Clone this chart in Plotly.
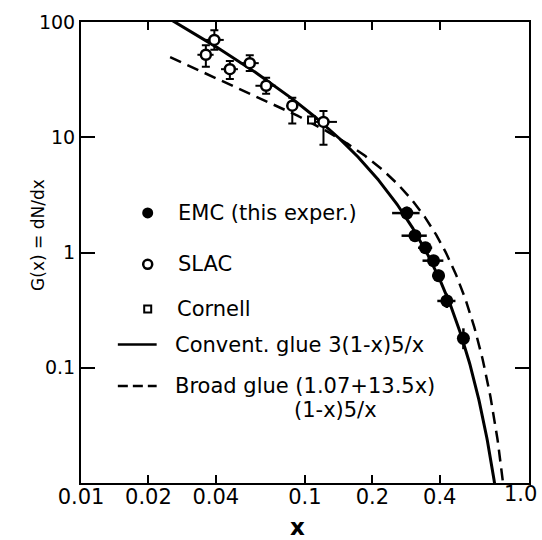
import numpy as np
import plotly.graph_objects as go

# ---- measured points ----
# EMC (this experiment): filled circles
emc_x = [0.285, 0.31, 0.345, 0.375, 0.395, 0.43, 0.51]
emc_y = [2.2, 1.4, 1.1, 0.85, 0.63, 0.38, 0.18]
emc_dx = [0.04, 0.04, 0.025, 0.04, 0.025, 0.04, 0.03]
emc_dy_up = [0.3, 0.17, 0.13, 0.1, 0.08, 0.06, 0.04]
emc_dy_dn = [0.25, 0.15, 0.11, 0.09, 0.07, 0.05, 0.035]

# SLAC: open circles
slac_x = [0.0394, 0.0361, 0.0462, 0.0567, 0.0671, 0.0878, 0.121]
slac_y = [70, 52, 39, 44, 28, 18.8, 13.6]
slac_dx = [0.004, 0.003, 0.004, 0.0055, 0.007, 0.005, 0.018]
slac_dy_up = [15, 11, 7, 7.5, 4.8, 3.2, 3.3]
slac_dy_dn = [12.5, 11, 7, 6.4, 4.1, 5.6, 5.0]

# Cornell: open square
cornell_x = [0.107]
cornell_y = [14.1]

# ---- glue distributions ----
conv_norm = 3.0                # 3(1-x)^5/x
broad_a, broad_b = 1.07, 13.5  # (1.07+13.5x)(1-x)^5/x
glue_power = 5

x_conv = np.logspace(np.log10(0.0255), np.log10(0.78), 500)
g_conv = conv_norm * (1 - x_conv) ** glue_power / x_conv
x_broad = np.logspace(np.log10(0.025), np.log10(0.82), 500)
g_broad = (broad_a + broad_b * x_broad) * (1 - x_broad) ** glue_power / x_broad

x_ticks = [0.01, 0.02, 0.04, 0.1, 0.2, 0.4, 1.0]
x_ticktext = ["0.01", "0.02", "0.04", "0.1", "0.2", "0.4", "1.0"]
y_ticks = [0.1, 1, 10, 100]
y_ticktext = ["0.1", "1", "10", "100"]

FONT = "DejaVu Sans"
W, H = 542, 540
L, R, T, B = 81, 11, 17, 57
PW, PH = W - L - R, H - T - B


def px(xp):
    return (xp - L) / PW


def py(yp):
    return (H - B - yp) / PH


fig = go.Figure()

fig.add_trace(go.Scatter(
    x=x_conv, y=g_conv, mode="lines",
    line=dict(color="black", width=3), hoverinfo="skip"))
fig.add_trace(go.Scatter(
    x=x_broad, y=g_broad, mode="lines",
    line=dict(color="black", width=2.5, dash="12px,7px"), hoverinfo="skip"))

fig.add_trace(go.Scatter(
    x=slac_x, y=slac_y, mode="markers",
    marker=dict(symbol="circle", size=10, color="white",
                line=dict(color="black", width=2.5)),
    error_x=dict(type="data", array=slac_dx, color="black", thickness=2, width=0),
    error_y=dict(type="data", symmetric=False, array=slac_dy_up,
                 arrayminus=slac_dy_dn, color="black", thickness=2, width=4)))

fig.add_trace(go.Scatter(
    x=cornell_x, y=cornell_y, mode="markers",
    marker=dict(symbol="square", size=7, color="white",
                line=dict(color="black", width=2))))

fig.add_trace(go.Scatter(
    x=emc_x, y=emc_y, mode="markers",
    marker=dict(symbol="circle", size=13, color="black"),
    error_x=dict(type="data", array=emc_dx, color="black", thickness=2.5, width=0),
    error_y=dict(type="data", symmetric=False, array=emc_dy_up,
                 arrayminus=emc_dy_dn, color="black", thickness=2.5, width=0)))

# ---- key (drawn on a hidden overlay axis in plot-fraction units) ----
key_x = px(148)
fig.add_trace(go.Scatter(
    x=[key_x], y=[py(210)], xaxis="x2", yaxis="y2", mode="markers",
    marker=dict(symbol="circle", size=11, color="black"), hoverinfo="skip"))
fig.add_trace(go.Scatter(
    x=[key_x], y=[py(262)], xaxis="x2", yaxis="y2", mode="markers",
    marker=dict(symbol="circle", size=9, color="white",
                line=dict(color="black", width=2.5)), hoverinfo="skip"))
fig.add_trace(go.Scatter(
    x=[key_x], y=[py(307)], xaxis="x2", yaxis="y2", mode="markers",
    marker=dict(symbol="square", size=7, color="white",
                line=dict(color="black", width=2)), hoverinfo="skip"))
fig.add_trace(go.Scatter(
    x=[px(118), px(157)], y=[py(343), py(343)], xaxis="x2", yaxis="y2",
    mode="lines", line=dict(color="black", width=2.5), hoverinfo="skip"))
fig.add_trace(go.Scatter(
    x=[px(118), px(157)], y=[py(385), py(385)], xaxis="x2", yaxis="y2",
    mode="lines", line=dict(color="black", width=2.5, dash="10px,5px"),
    hoverinfo="skip"))

key_font = dict(family=FONT, size=21, color="black")
key_text = [
    (176, 210, "EMC (this exper.)"),
    (176, 262, "SLAC"),
    (175, 307, "Cornell"),
    (173, 343, "Convent. glue 3(1-x)5/x"),
    (173, 385, "Broad glue (1.07+13.5x)"),
    (293, 409, "(1-x)5/x"),
]
for xp_, yp_, txt in key_text:
    fig.add_annotation(x=px(xp_), y=py(yp_), xref="paper", yref="paper",
                       text=txt, showarrow=False, xanchor="left",
                       yanchor="middle", font=key_font)

# axis titles
fig.add_annotation(x=px(37), y=py(232), xref="paper", yref="paper",
                   text="G(x) = dN/dx", textangle=-90, showarrow=False,
                   xanchor="center", yanchor="middle",
                   font=dict(family=FONT, size=17, color="black"))
fig.add_annotation(x=px(298), y=py(527), xref="paper", yref="paper",
                   text="<b>x</b>", showarrow=False,
                   xanchor="center", yanchor="middle",
                   font=dict(family=FONT, size=23, color="black"))

# the last x label sits at the page edge; keep it fully inside the page
tick_font_x = dict(family=FONT, size=21, color="black")
fig.add_annotation(x=px(541), y=py(494), xref="paper", yref="paper",
                   text=x_ticktext[-1], showarrow=False,
                   xanchor="right", yanchor="middle", font=tick_font_x)
x_ticktext_axis = x_ticktext[:-1] + [""]

axis_common = dict(showline=True, linecolor="black", linewidth=2,
                   mirror="ticks", ticks="inside", tickcolor="black",
                   tickwidth=2, showgrid=False, zeroline=False)

fig.update_layout(
    width=W, height=H,
    margin=dict(l=L, r=R, t=T, b=B),
    paper_bgcolor="white", plot_bgcolor="white",
    showlegend=False,
    xaxis=dict(type="log", range=[-2, 0.0005], tickvals=x_ticks,
               ticktext=x_ticktext_axis, ticklen=8, ticklabelstandoff=-6,
               tickfont=tick_font_x, **axis_common),
    yaxis=dict(type="log", range=[-2, 2.0005], tickvals=y_ticks,
               ticktext=y_ticktext, ticklen=14,
               tickfont=dict(family=FONT, size=19, color="black"),
               **axis_common),
    xaxis2=dict(overlaying="x", anchor="y2", range=[0, 1], visible=False),
    yaxis2=dict(overlaying="y", anchor="x2", range=[0, 1], visible=False),
)

fig.write_html("out.html")
